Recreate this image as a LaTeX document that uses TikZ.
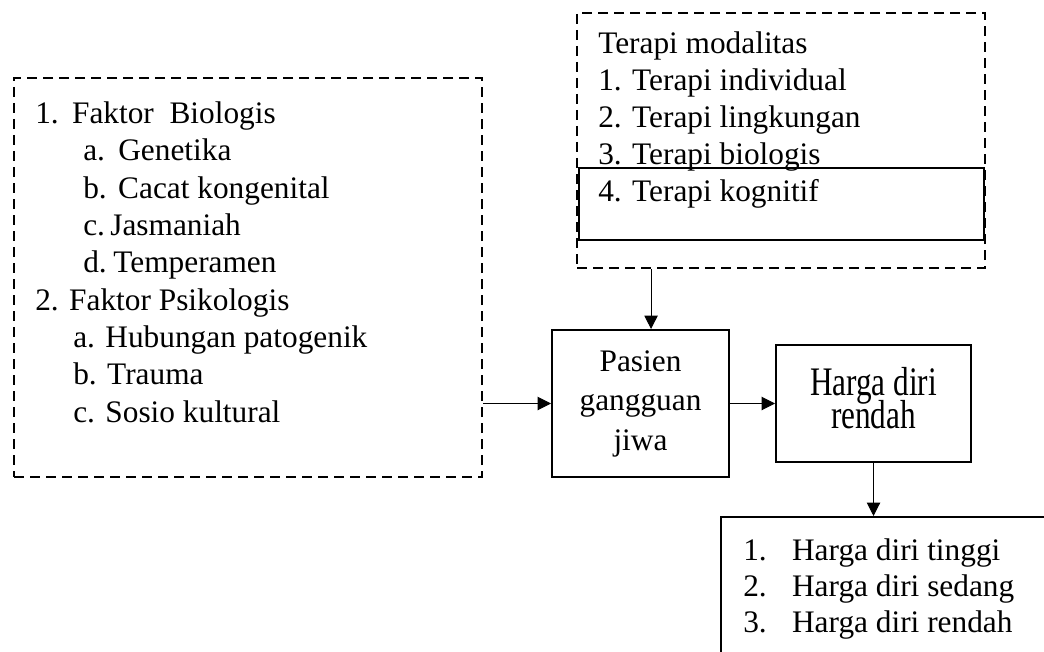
\documentclass[tikz,border=0pt]{standalone}
\usepackage{fontspec}
\setmainfont{Liberation Serif}
\newfontfamily\tallserif[FakeStretch=0.77]{Liberation Serif}
\usetikzlibrary{positioning,arrows.meta}
\newcommand\tightlines{\lineskiplimit=-100pt\relax}

\begin{document}
\begin{tikzpicture}[
  x=0.75pt,y=-0.75pt,
  font=\fontsize{23.5}{28}\selectfont,
  frame/.style={draw,line width=1.5pt,inner sep=0pt},
  dashframe/.style={frame,dash pattern=on 7.5pt off 4.5pt},
  list/.style={anchor=north west,align=left,inner sep=0pt},
  link/.style={->,line width=0.75pt},
  >={Triangle[length=10pt,width=10pt]}]
  \clip (0,0) rectangle (1044,652);
  % causes
  \node[dashframe,minimum width=351pt,minimum height=299.25pt] (factors) at (248,277.5) {};
  \node[list] (factortxt) at (35,101.6) {1.\hspace{10pt}Faktor\ \ Biologis\\
    \hspace*{36pt}a.\hspace{10pt}Genetika\\
    \hspace*{36pt}b.\hspace{8.6pt}Cacat kongenital\\
    \hspace*{36pt}c.\hspace{4pt}Jasmaniah\\
    \hspace*{36pt}d.\hspace{5pt}Temperamen\\
    2. Faktor Psikologis\\
    \hspace*{28.5pt}a. Hubungan patogenik\\
    \hspace*{28.5pt}b. Trauma\\
    \hspace*{28.5pt}c. Sosio kultural};
  % therapy
  \node[dashframe,minimum width=306pt,minimum height=191.25pt] (therapy) at (781,140.5) {};
  \node[frame,minimum width=303.75pt,minimum height=54pt] (cognitive) at (781.5,204) {};
  \node[list,font=\fontsize{23.5}{27.75}\selectfont] (therapytxt) at (598,31.6) {Terapi modalitas\\
    1. Terapi individual\\
    2. Terapi lingkungan\\
    3. Terapi biologis\\
    4. Terapi kognitif};
  % main chain
  \node[frame,minimum width=132.75pt,minimum height=110.25pt,align=center,
    font=\fontsize{23.5}{29.6}\selectfont] (patient) at (640.5,403.5) {Pasien\\gangguan\\jiwa};
  \node[frame,minimum width=146.25pt,minimum height=87.75pt] (self) at (873.5,403.5) {};
  \node[anchor=north,align=center,inner sep=0pt,
    font=\tallserif\fontsize{30.4}{24.8}\selectfont\tightlines] (selftxt) at (873.5,367) {Harga diri\\rendah};
  % levels
  \node[frame,minimum width=254.25pt,minimum height=114.75pt] (levels) at (890.5,593.5) {};
  \node[list,font=\fontsize{23.5}{27}\selectfont] (levelstxt) at (743,538.6) {1.\hspace{19pt}Harga diri tinggi\\
    2.\hspace{19pt}Harga diri sedang\\
    3.\hspace{19pt}Harga diri rendah};
  \draw[link] (factors.east |- patient.west) -- (patient.west);
  \draw[link] ([xshift=7.9pt]patient.north |- therapy.south) -- ([xshift=7.9pt]patient.north);
  \draw[link] (patient.east) -- (self.west);
  \draw[link] (self.south) -- (self.south |- levels.north);
\end{tikzpicture}
\end{document}
